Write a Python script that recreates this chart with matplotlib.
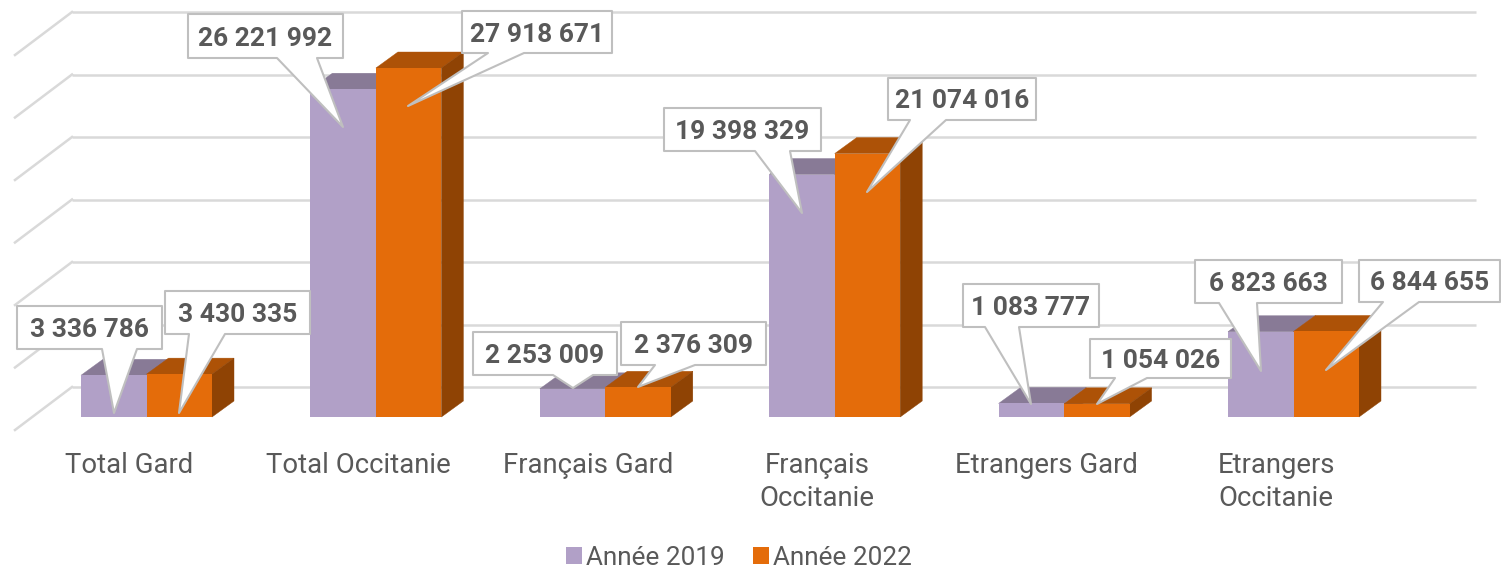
import matplotlib
matplotlib.use("Agg")
import matplotlib.pyplot as plt
from matplotlib.patches import Polygon, Patch

categories = ["Total Gard", "Total Occitanie", "Français Gard",
              "Français\nOccitanie", "Etrangers Gard", "Etrangers\nOccitanie"]
series_names = ["Année 2019", "Année 2022"]
values_2019 = [3336786, 26221992, 2253009, 19398329, 1083777, 6823663]
values_2022 = [3430335, 27918671, 2376309, 21074016, 1054026, 6844655]
grid_values = [0, 5e6, 10e6, 15e6, 20e6, 25e6, 30e6]

W, H = 1501, 570
X0, STEP = 146.5, 229.4          # px of first category, px per category
Y0, PXV = 417.0, 12.5e-6         # px of the baseline, px per unit of value
BAR = 65.5 / STEP
DX, DV = 22 / STEP, 16 / PXV     # bar depth
WX, WV = 57 / STEP, 30 / PXV     # wall: back-floor shift
FV = 13 / PXV                    # front floor drop relative to bar base

C19 = ("#B1A0C7", "#887A96", "#887A96")
C22 = ("#E46C0A", "#AD5207", "#8F4304")
GRID = "#D9D9D9"
TXT = "#595959"
FONT = "Roboto"


def fx(px):
    return (px - X0) / STEP


def fy(py):
    return (Y0 - py) / PXV


fig = plt.figure(figsize=(W / 100, H / 100), dpi=100)
ax = fig.add_axes([0, 0, 1, 1])
ax.set_xlim(fx(0), fx(W))
ax.set_ylim(fy(H), fy(0))
ax.axis("off")

# walls
wall_left = fx(72)
wall_right = fx(1476)
front_left = fx(15)
for g in grid_values:
    ax.plot([wall_left, wall_right], [g + WV] * 2, color=GRID, lw=1.8, zorder=1,
            solid_capstyle="butt")
    ax.plot([front_left, wall_left], [g - FV, g + WV], color=GRID, lw=1.8, zorder=1)

# 3D bars
for i, (a, b) in enumerate(zip(values_2019, values_2022)):
    for left, v, c, z in ((i - BAR, a, C19, 3), (i, b, C22, 4)):
        ax.add_patch(Polygon([(left, v), (left + DX, v + DV), (left + BAR + DX, v + DV),
                              (left + BAR, v)], fc=c[1], ec=c[1], lw=0.3, zorder=z))
        ax.add_patch(Polygon([(left + BAR, 0), (left + BAR + DX, DV), (left + BAR + DX, v + DV),
                              (left + BAR, v)], fc=c[2], ec=c[2], lw=0.3, zorder=z))
ax.bar([i - BAR / 2 for i in range(6)], values_2019, BAR, color=C19[0], zorder=5)
ax.bar([i + BAR / 2 for i in range(6)], values_2022, BAR, color=C22[0], zorder=6)

# category labels
for i, c in enumerate(categories):
    ax.text(i - 17.5 / STEP, fy(452), c, ha="center", va="top", fontsize=19.8,
            family=FONT, color=TXT, linespacing=1.3, zorder=7)

# callouts: label layout in px (box l, t, r, b; tail base x1, x2; tip x, y)
callouts = [
    (17, 306, 162, 349, 102, 137, 114, 413),
    (165, 291, 310, 334, 189, 225, 179, 413),
    (473, 332, 617, 375, 553, 593, 573, 388),
    (621, 322, 766, 365, 655, 695, 638, 387),
    (963, 284, 1099, 327, 985, 1019, 1031, 404),
    (1090, 339, 1231, 378, 1115, 1147, 1097, 404),
    (1195, 260, 1342, 303, 1219, 1257, 1261, 371),
    (1359, 260, 1500, 302, 1383, 1419, 1326, 370),
    (188, 14, 343, 58, 277, 317, 343, 127),
    (462, 11, 612, 53, 488, 524, 408, 106),
    (664, 108, 821, 151, 755, 790, 802, 213),
    (888, 78, 1036, 120, 910, 946, 867, 192),
]
label_order = [(0, 0), (0, 1), (2, 0), (2, 1), (4, 0), (4, 1), (5, 0), (5, 1),
               (1, 0), (1, 1), (3, 0), (3, 1)]
for k, ((l, t, r, b, x1, x2, tx, ty), (i, s)) in enumerate(zip(callouts, label_order)):
    pts = [(l, t), (r, t), (r, b), (x2, b), (tx, ty), (x1, b), (l, b)]
    ax.add_patch(Polygon([(fx(x), fy(y)) for x, y in pts], closed=True, fc="white", ec="#BFBFBF",
                         lw=1.5, joinstyle="round", zorder=10 + 2 * k))
    v = (values_2019, values_2022)[s][i]
    label = f"{v:,}".replace(",", " ")
    ax.text(fx((l + r) / 2), fy((t + b) / 2), label, ha="center", va="center_baseline",
            fontsize=19, fontweight="bold", family=FONT, color=TXT, zorder=11 + 2 * k)

# legend
handles = [Patch(fc=C19[0], label=series_names[0]), Patch(fc=C22[0], label=series_names[1])]
ax.legend(handles=handles, ncol=2, loc="center", bbox_to_anchor=(739 / W, 1 - 558 / H),
          frameon=False, prop={"family": FONT, "size": 18.8}, labelcolor=TXT,
          handlelength=0.62, handleheight=0.62, handletextpad=0.15, columnspacing=1.1,
          borderpad=0, borderaxespad=0)

fig.savefig("out.png", dpi=100, facecolor="white")
